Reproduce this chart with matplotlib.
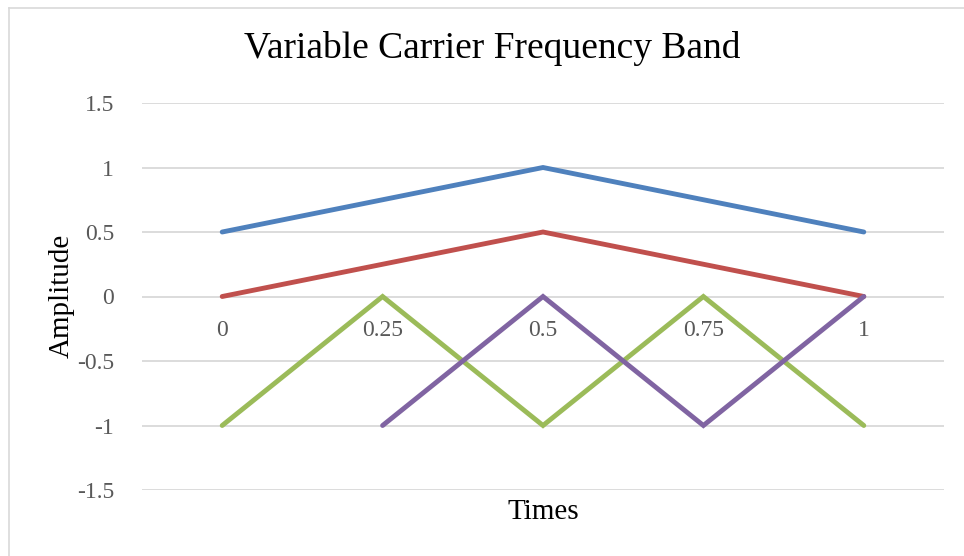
import matplotlib
matplotlib.use("Agg")
import matplotlib.pyplot as plt
from matplotlib.lines import Line2D
import numpy as np

# Data
categories = ["0", "0.25", "0.5", "0.75", "1"]
series_blue = [0.5, 0.75, 1.0, 0.75, 0.5]
series_red = [0.0, 0.25, 0.5, 0.25, 0.0]
series_green = [-1.0, 0.0, -1.0, 0.0, -1.0]
series_purple = [np.nan, -1.0, 0.0, -1.0, 0.0]
y_ticks = [-1.5, -1, -0.5, 0, 0.5, 1, 1.5]
y_tick_labels = ["-1.5", "-1", "-0.5", "0", "0.5", "1", "1.5"]

W, H = 964, 556
fig = plt.figure(figsize=(W / 100, H / 100), dpi=100)
plt.rcParams["font.family"] = ["Liberation Serif", "DejaVu Serif"]

# chart-area border: only the left and top edges are inside the canvas
border = dict(color="#D9D9D9", linewidth=1.2, transform=fig.transFigure)
fig.lines.append(Line2D([8.5 / W, 8.5 / W], [0, 1 - 7.5 / H], **border))
fig.lines.append(Line2D([8.5 / W, 1], [1 - 7.5 / H, 1 - 7.5 / H], **border))

ax = fig.add_axes([142 / W, 66 / H, (944 - 142) / W, (490 - 103) / H])
x = np.arange(len(categories))

colors = ["#4F81BD", "#C0504D", "#9BBB59", "#8064A2"]
for vals, c in zip([series_blue, series_red, series_green, series_purple], colors):
    ax.plot(x, vals, color=c, linewidth=3.5, solid_capstyle="round",
            solid_joinstyle="miter", zorder=3)

ax.set_xlim(-0.5, len(categories) - 0.5)
ax.set_ylim(-1.5, 1.5)
ax.set_yticks(y_ticks)
ax.set_yticklabels(y_tick_labels)
ax.set_xticks(x)
ax.set_xticklabels(categories)

ax.yaxis.grid(True, color="#D9D9D9", linewidth=1.3, zorder=0)
ax.set_axisbelow(True)
for side in ["left", "right", "top"]:
    ax.spines[side].set_visible(False)
ax.spines["bottom"].set_position(("data", 0))
ax.spines["bottom"].set_visible(False)

ax.tick_params(axis="y", length=0, pad=20, labelsize=17, labelcolor="#595959")
ax.tick_params(axis="x", length=0, pad=17, labelsize=17, labelcolor="#595959")

fig.text(492 / W, 1 - 49 / H, "Variable Carrier Frequency Band", ha="center",
         va="center", fontsize=27, color="black")
fig.text(543 / W, 1 - 512 / H, "Times", ha="center", va="center",
         fontsize=21, color="black")
fig.text(62 / W, 1 - 296 / H, "Amplitude", ha="center", va="center",
         rotation=90, fontsize=21, color="black")

fig.savefig("out.png", dpi=100, facecolor="white")
